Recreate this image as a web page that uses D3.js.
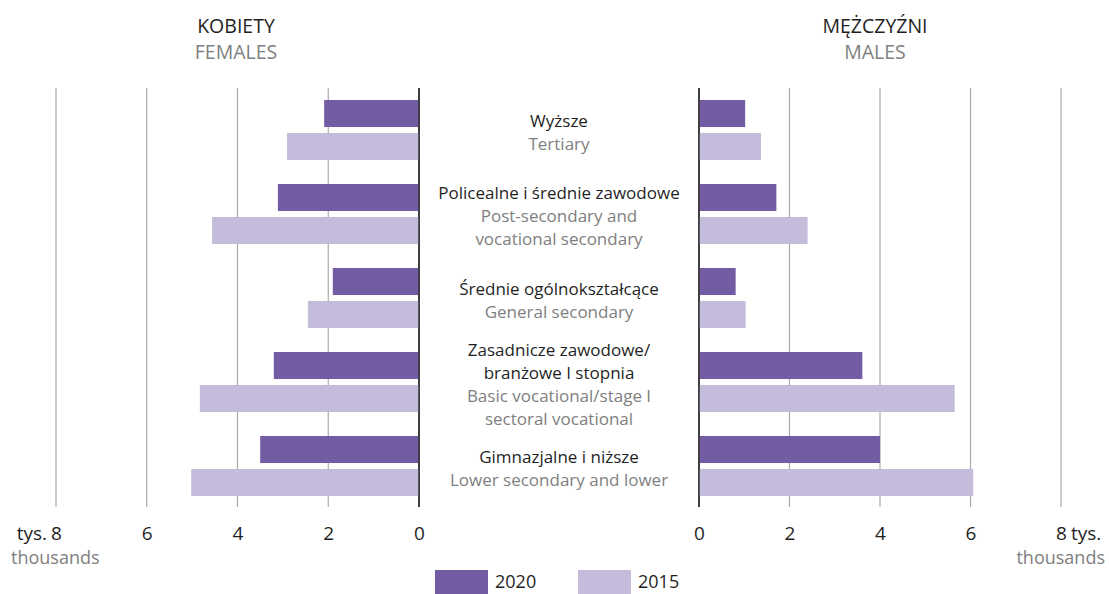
<!DOCTYPE html>
<head>
  <meta charset="utf-8">
  <script src="https://d3js.org/d3.v7.min.js"></script>
  <style>
    body { margin:0; background:#fff; }
    text { font-family: "Open Sans", sans-serif; }
    .grid { stroke:#aaa; stroke-width:1.2; }
    .zero { stroke:#333; stroke-width:1.5; }
    .pl { fill:#1f1f1f; }
    .en { fill:#808080; }
  </style>
</head>

<body>
  <script>
  // ---------- data ----------
    var categoriesPl = [
      ["Wyższe"],
      ["Policealne i średnie zawodowe"],
      ["Średnie ogólnokształcące"],
      ["Zasadnicze zawodowe/", "branżowe I stopnia"],
      ["Gimnazjalne i niższe"]
    ];
    var categoriesEn = [
      ["Tertiary"],
      ["Post-secondary and", "vocational secondary"],
      ["General secondary"],
      ["Basic vocational/stage I", "sectoral vocational"],
      ["Lower secondary and lower"]
    ];
    var years = ["2020", "2015"];
    var females2020 = [2.09, 3.11, 1.90, 3.20, 3.50];
    var females2015 = [2.91, 4.56, 2.45, 4.83, 5.02];
    var males2020 = [1.02, 1.71, 0.81, 3.61, 4.00];
    var males2015 = [1.37, 2.40, 1.03, 5.65, 6.06];
    var ticks = [0, 2, 4, 6, 8];

    var colors = { "2020": "#745ca5", "2015": "#c4bcda" };

  // ---------- svg ----------
    var svg = d3.select("body").append("svg")
      .attr("width", 1109)
      .attr("height", 594);

    var idx = d3.range(categoriesPl.length);

    var y0 = d3.scaleBand().domain(idx).range([100, 520]);
    var y1 = d3.scaleBand().domain(years).range([0, 60]).paddingInner(0.18);

    var xLeft = d3.scaleLinear().domain([0, 8]).range([419, 56]);
    var xRight = d3.scaleLinear().domain([0, 8]).range([699, 1061]);

  // ---------- gridlines ----------
    [xLeft, xRight].forEach(function(x) {
      svg.append("g").selectAll("line")
        .data(ticks)
        .join("line")
        .attr("class", d => d === 0 ? "zero" : "grid")
        .attr("x1", d => x(d)).attr("x2", d => x(d))
        .attr("y1", 88).attr("y2", 507);
    });

  // ---------- bars ----------
    function drawBars(x, v2020, v2015, left) {
      var rows = [];
      idx.forEach(function(i) {
        rows.push({ i: i, year: "2020", v: v2020[i] });
        rows.push({ i: i, year: "2015", v: v2015[i] });
      });
      svg.append("g").selectAll("rect")
        .data(rows)
        .join("rect")
        .attr("x", d => left ? x(d.v) : x(0))
        .attr("width", d => Math.abs(x(d.v) - x(0)))
        .attr("y", d => y0(d.i) + y1(d.year))
        .attr("height", y1.bandwidth())
        .attr("fill", d => colors[d.year]);
    }
    drawBars(xLeft, females2020, females2015, true);
    drawBars(xRight, males2020, males2015, false);

    // zero lines on top of the bars
    [xLeft, xRight].forEach(function(x) {
      svg.append("line").attr("class", "zero")
        .attr("x1", x(0)).attr("x2", x(0))
        .attr("y1", 88).attr("y2", 507);
    });

  // ---------- category labels ----------
    var labelX = 559;
    var lineH = 23;
    idx.forEach(function(i) {
      var lines = categoriesPl[i].map(t => ({ t: t, c: "pl" }))
        .concat(categoriesEn[i].map(t => ({ t: t, c: "en" })));
      var mid = y0(i) + 30;
      var top = mid - (lines.length - 1) * lineH / 2;
      svg.append("g").selectAll("text")
        .data(lines)
        .join("text")
        .attr("class", d => d.c)
        .attr("x", labelX)
        .attr("y", (d, k) => top + k * lineH + 8)
        .attr("text-anchor", "middle")
        .attr("font-size", 17)
        .text(d => d.t);
    });

  // ---------- headers ----------
    function header(x, pl, en) {
      svg.append("text").attr("class", "pl").attr("x", x).attr("y", 33)
        .attr("text-anchor", "middle").attr("font-size", 19.5).text(pl);
      svg.append("text").attr("class", "en").attr("x", x).attr("y", 59)
        .attr("text-anchor", "middle").attr("font-size", 19.5).text(en);
    }
    header(236, "KOBIETY", "FEMALES");
    header(875, "MĘŻCZYŹNI", "MALES");

  // ---------- axes ----------
    var axisY = 526;
    var axL = svg.append("g").attr("transform", "translate(0," + axisY + ")")
      .call(d3.axisBottom(xLeft).tickValues(ticks).tickSize(0).tickPadding(0));
    var axR = svg.append("g").attr("transform", "translate(0," + axisY + ")")
      .call(d3.axisBottom(xRight).tickValues(ticks).tickSize(0).tickPadding(0));
    [axL, axR].forEach(function(ax) {
      ax.select(".domain").remove();
      ax.selectAll("text")
        .attr("font-family", "Open Sans, sans-serif")
        .attr("font-size", 19)
        .attr("fill", "#1f1f1f");
    });

    svg.append("text").attr("class", "pl").attr("x", xLeft(8) - 9).attr("y", 540)
      .attr("text-anchor", "end").attr("font-size", 19).text("tys.");
    svg.append("text").attr("class", "en").attr("x", 11).attr("y", 564)
      .attr("font-size", 18).text("thousands");
    svg.append("text").attr("class", "pl").attr("x", xRight(8) + 10).attr("y", 540)
      .attr("font-size", 19).text("tys.");
    svg.append("text").attr("class", "en").attr("x", 1105).attr("y", 564)
      .attr("text-anchor", "end").attr("font-size", 18).text("thousands");

  // ---------- legend ----------
    var legendX = d3.scaleOrdinal().domain(years).range([435, 578]);
    var lg = svg.append("g").selectAll("g")
      .data(years)
      .join("g")
      .attr("transform", d => "translate(" + legendX(d) + ",570)");
    lg.append("rect").attr("width", 53).attr("height", 24).attr("fill", d => colors[d]);
    lg.append("text").attr("class", "pl").attr("x", 60).attr("y", 18)
      .attr("font-size", 18).text(d => d);
  </script>
</body>
